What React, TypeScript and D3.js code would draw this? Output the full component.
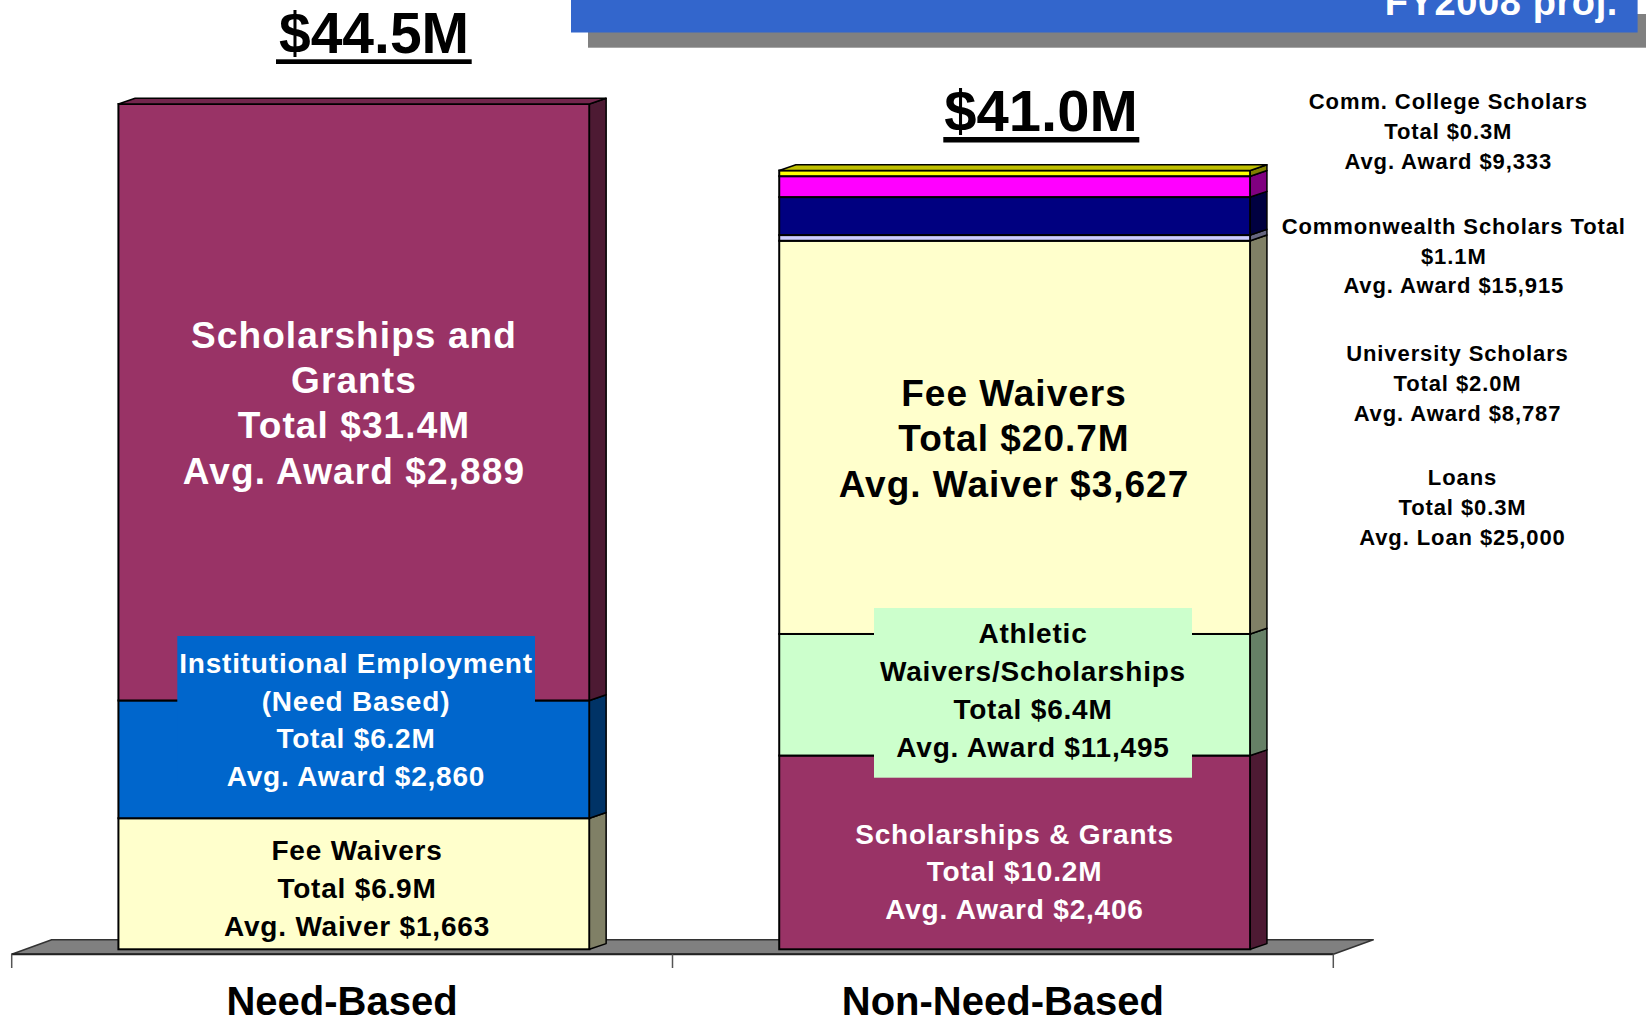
import React from 'react';
import * as d3 from 'd3';

// ---------- data ----------
const categories = ['Need-Based', 'Non-Need-Based'];
const categoryTotals = ['$44.5M', '$41.0M'];

const needSegments = ['Fee Waivers', 'Institutional Employment', 'Scholarships and Grants'];
const needValues = [6.9, 6.2, 31.4];
const needColors = ['#FFFFCC', '#0066CC', '#993366'];

const nonNeedSegments = [
  'Scholarships & Grants',
  'Athletic Waivers/Scholarships',
  'Fee Waivers',
  'Loans',
  'University Scholars',
  'Commonwealth Scholars',
  'Comm. College Scholars',
];
const nonNeedValues = [10.2, 6.4, 20.7, 0.3, 2.0, 1.1, 0.3];
const nonNeedColors = ['#993366', '#CCFFCC', '#FFFFCC', '#CCCCFF', '#000080', '#FF00FF', '#FFFF00'];

const needLabels = [
  ['Fee Waivers', 'Total $6.9M', 'Avg. Waiver $1,663'],
  ['Institutional Employment', '(Need Based)', 'Total $6.2M', 'Avg. Award $2,860'],
  ['Scholarships and', 'Grants', 'Total $31.4M', 'Avg. Award $2,889'],
];
const nonNeedLabels = [
  ['Scholarships & Grants', 'Total $10.2M', 'Avg. Award $2,406'],
  ['Athletic', 'Waivers/Scholarships', 'Total $6.4M', 'Avg. Award $11,495'],
  ['Fee Waivers', 'Total $20.7M', 'Avg. Waiver $3,627'],
];
const sideNotes = [
  ['Comm. College Scholars', 'Total $0.3M', 'Avg. Award $9,333'],
  ['Commonwealth Scholars Total', '$1.1M', 'Avg. Award $15,915'],
  ['University Scholars', 'Total $2.0M', 'Avg. Award $8,787'],
  ['Loans', 'Total $0.3M', 'Avg. Loan $25,000'],
];
const headerText = 'FY2008 proj.';

// ---------- layout ----------
const W = 1646;
const H = 1018;
const FONT = "'Liberation Sans', Arial, sans-serif";
const DX = 16.7; // 3D depth
const DY = -5.7;
const FLOOR_DX = 40;
const FLOOR_DY = -14.5;

const x = d3.scaleBand<string>().domain(categories).range([11.7, 1333.3]).paddingInner(0).paddingOuter(0);
const y = d3.scaleLinear().domain([0, 44.5]).range([949.3, 104]);
const floorY = 954.3;

const side = (c: string) => d3.interpolateRgb(c, '#000')(0.5);
const top = (c: string) => d3.interpolateRgb(c, '#000')(0.25);

type Seg = { name: string; v0: number; v1: number; color: string };
function stack(names: string[], values: number[], colors: string[]): Seg[] {
  let acc = 0;
  return names.map((n, i) => {
    const s = { name: n, v0: acc, v1: acc + values[i], color: colors[i] };
    acc += values[i];
    return s;
  });
}

const bars = [
  { cat: categories[0], segs: stack(needSegments, needValues, needColors) },
  { cat: categories[1], segs: stack(nonNeedSegments, nonNeedValues, nonNeedColors) },
];

function Bar({ cat, segs }: { cat: string; segs: Seg[] }) {
  const bw = x.bandwidth();
  const x0 = (x(cat) as number) + bw * 0.1615;
  const w = bw * 0.7128;
  const x1 = x0 + w;
  const last = segs[segs.length - 1];
  const yt = y(last.v1);
  return (
    <g>
      {segs.map((s, i) => {
        const ya = y(s.v1);
        const yb = y(s.v0);
        return (
          <g key={i}>
            <rect x={x0} y={ya} width={w} height={yb - ya} fill={s.color} stroke="#000" strokeWidth={2} />
            <polygon
              points={`${x1},${ya} ${x1 + DX},${ya + DY} ${x1 + DX},${yb + DY} ${x1},${yb}`}
              fill={side(s.color)}
              stroke="#000"
              strokeWidth={1.5}
              strokeLinejoin="round"
            />
          </g>
        );
      })}
      <polygon
        points={`${x0},${yt} ${x0 + DX},${yt + DY} ${x1 + DX},${yt + DY} ${x1},${yt}`}
        fill={top(last.color)}
        stroke="#000"
        strokeWidth={1.5}
        strokeLinejoin="round"
      />
    </g>
  );
}

function Lines({ lines, cx, y0, dy, size, color, spacing = 0.8 }: any) {
  return (
    <text
      textAnchor="middle"
      fontFamily={FONT}
      fontWeight="bold"
      fontSize={size}
      fill={color}
      letterSpacing={spacing}
    >
      {lines.map((l: string, i: number) => (
        <tspan key={i} x={cx} y={y0 + i * dy}>
          {l}
        </tspan>
      ))}
    </text>
  );
}

export default function App() {
  const [xa, xb, xc] = [x(categories[0]) as number, x(categories[1]) as number, 1333.3];
  const xEnd = xc;
  const floorPts = `${xa},${floorY} ${xEnd},${floorY} ${xEnd + FLOOR_DX},${floorY + FLOOR_DY} ${xa + FLOOR_DX},${floorY + FLOOR_DY}`;
  return (
    <svg
      width={W}
      height={H}
      viewBox={`0 0 ${W} ${H}`}
      style={{ position: 'absolute', left: 0, top: 0, background: '#fff' }}
    >
      {/* header */}
      <rect x={588} y={14} width={1070} height={33.7} fill="#808080" />
      <rect x={571} y={-2} width={1066.6} height={34.5} fill="#3366CC" />
      <text x={1618} y={15} textAnchor="end" fontFamily={FONT} fontWeight="bold" fontSize={38} fill="#fff" letterSpacing={0.6}>
        {headerText}
      </text>

      {/* floor */}
      <polygon points={floorPts} fill="#808080" stroke="#333" strokeWidth={1.5} strokeLinejoin="round" />
      <line x1={xa} x2={xEnd} y1={floorY} y2={floorY} stroke="#222" strokeWidth={2} />
      {[xa, xb, xc].map((t, i) => (
        <line key={i} x1={t} x2={t} y1={floorY} y2={968} stroke="#555" strokeWidth={1.5} />
      ))}

      {/* bars */}
      {bars.map((b) => (
        <Bar key={b.cat} cat={b.cat} segs={b.segs} />
      ))}

      {/* label boxes */}
      <rect x={177.3} y={636} width={357.7} height={150} fill="#0066CC" />
      <rect x={874} y={608} width={318} height={169.7} fill="#CCFFCC" />

      {/* need-based labels */}
      <Lines lines={needLabels[2]} cx={354} y0={348} dy={45.2} size={37} color="#fff" spacing={1.1} />
      <Lines lines={needLabels[1]} cx={356} y0={673.3} dy={37.5} size={28} color="#fff" />
      <Lines lines={needLabels[0]} cx={357} y0={860.3} dy={37.8} size={28} color="#000" />

      {/* non-need labels */}
      <Lines lines={nonNeedLabels[2]} cx={1014} y0={405.8} dy={45.6} size={37} color="#000" spacing={1.0} />
      <Lines lines={nonNeedLabels[1]} cx={1033} y0={643.3} dy={38} size={28} color="#000" />
      <Lines lines={nonNeedLabels[0]} cx={1014.5} y0={843.5} dy={37.8} size={28} color="#fff" />

      {/* side notes */}
      <Lines lines={sideNotes[0]} cx={1448.3} y0={109.3} dy={30} size={22} color="#000" spacing={0.9} />
      <Lines lines={sideNotes[1]} cx={1453.8} y0={234} dy={29.7} size={22} color="#000" spacing={0.9} />
      <Lines lines={sideNotes[2]} cx={1457.5} y0={360.7} dy={30} size={22} color="#000" spacing={0.9} />
      <Lines lines={sideNotes[3]} cx={1462.5} y0={485.3} dy={30} size={22} color="#000" spacing={0.9} />

      {/* totals */}
      <text x={374} y={53.3} textAnchor="middle" fontFamily={FONT} fontWeight="bold" fontSize={57} fill="#000">
        {categoryTotals[0]}
      </text>
      <rect x={276} y={59.3} width={195.7} height={4.7} fill="#000" />
      <text x={1041} y={131} textAnchor="middle" fontFamily={FONT} fontWeight="bold" fontSize={58} fill="#000">
        {categoryTotals[1]}
      </text>
      <rect x={943.3} y={137} width={196} height={5.5} fill="#000" />

      {/* category labels */}
      {categories.map((c) => (
        <text
          key={c}
          x={(x(c) as number) + x.bandwidth() / 2}
          y={1015}
          textAnchor="middle"
          fontFamily={FONT}
          fontWeight="bold"
          fontSize={40}
          fill="#000"
        >
          {c}
        </text>
      ))}
    </svg>
  );
}
